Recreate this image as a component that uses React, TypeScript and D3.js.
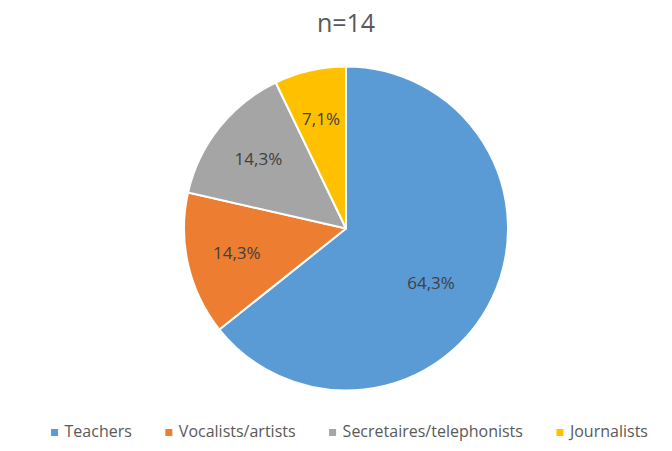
import { useEffect, useRef } from 'react';
import * as d3 from 'd3';

const categories = ['Teachers', 'Vocalists/artists', 'Secretaires/telephonists', 'Journalists'];
const counts = [9, 2, 2, 1];
const colors = ['#5B9BD5', '#ED7D31', '#A5A5A5', '#FFC000'];
const title = 'n=14';

const WIDTH = 672;
const HEIGHT = 451;
const FONT = '"Open Sans", sans-serif';

export default function App() {
  const svgRef = useRef<SVGSVGElement>(null);

  useEffect(() => {
    if (!svgRef.current) return;
    const svg = d3.select(svgRef.current);
    svg.selectAll('*').remove();

    const cx = 346;
    const cy = 228.5;
    const radius = 162;
    const total = d3.sum(counts);

    svg.append('text')
      .attr('x', cx)
      .attr('y', 31.5)
      .attr('text-anchor', 'middle')
      .attr('font-family', FONT)
      .attr('font-size', 25)
      .attr('fill', '#595959')
      .text(title);

    const pie = d3.pie<number>().sort(null).value((d) => d);
    const arcs = pie(counts);
    const arc = d3.arc<d3.PieArcDatum<number>>().innerRadius(0).outerRadius(radius);

    const g = svg.append('g').attr('transform', `translate(${cx},${cy})`);

    g.selectAll('path')
      .data(arcs)
      .join('path')
      .attr('d', arc)
      .attr('fill', (_, i) => colors[i])
      .attr('stroke', '#fff')
      .attr('stroke-width', 2)
      .attr('stroke-linejoin', 'round');

    const fmt = (v: number) => `${((v / total) * 100).toFixed(1).replace('.', ',')}%`;

    g.selectAll('text.label')
      .data(arcs)
      .join('text')
      .attr('class', 'label')
      .attr('transform', (d) => {
        const share = d.value / total;
        const r = share > 0.5 ? 101 : 112;
        const a = share > 0.5 ? (d.startAngle + d.endAngle) / 2 + 0.12 : (d.startAngle + d.endAngle) / 2;
        return `translate(${r * Math.sin(a)},${-r * Math.cos(a)})`;
      })
      .attr('dy', '0.35em')
      .attr('text-anchor', 'middle')
      .attr('font-family', FONT)
      .attr('font-size', 17)
      .attr('fill', '#404040')
      .text((d) => fmt(d.value));

    // legend, centred under the chart
    const legend = svg.append('g');
    const items = legend.selectAll('g')
      .data(categories)
      .join('g');

    items.append('rect')
      .attr('width', 7)
      .attr('height', 7)
      .attr('y', 429)
      .attr('fill', (_, i) => colors[i]);

    const labels = items.append('text')
      .attr('x', 13.5)
      .attr('y', 437)
      .attr('font-family', FONT)
      .attr('font-size', 16)
      .attr('fill', '#595959')
      .text((d) => d);

    const widths = labels.nodes().map((n) => (n as SVGTextElement).getComputedTextLength());
    const gap = 33.5;
    const itemWidths = widths.map((w) => 13.5 + w);
    const totalWidth = d3.sum(itemWidths) + gap * (categories.length - 1);
    let x = 349.5 - totalWidth / 2;
    items.attr('transform', (_, i) => {
      const t = `translate(${x},0)`;
      x += itemWidths[i] + gap;
      return t;
    });
  }, []);

  return (
    <svg
      ref={svgRef}
      width={WIDTH}
      height={HEIGHT}
      style={{ position: 'absolute', left: 0, top: 0, background: '#fff' }}
    />
  );
}
